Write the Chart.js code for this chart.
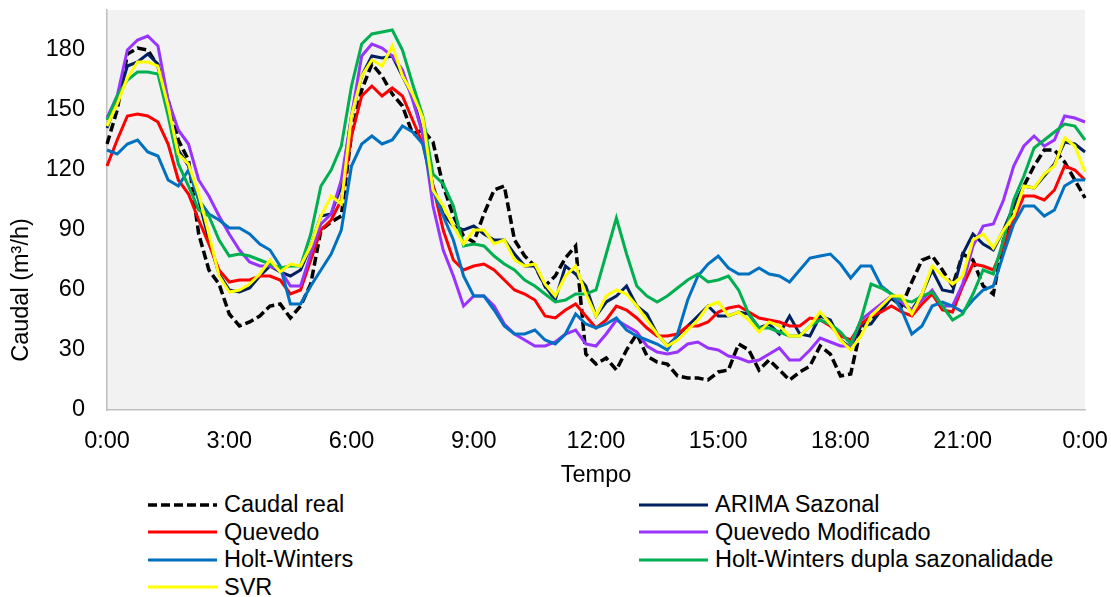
<!DOCTYPE html>
<html lang="pt">
<head>
<meta charset="UTF-8">
<title>Caudal - previsões</title>
<script src="https://cdn.jsdelivr.net/npm/chart.js@4.4.1/dist/chart.umd.js"></script>
<style>
  body { margin: 0; background: #fff; font-family: "Liberation Sans", Arial, sans-serif; }
  #wrap { position: relative; width: 1111px; height: 597px; }
  #box { position: absolute; left: 0; top: 0; width: 1111px; height: 490px; }
  #legend { position: absolute; left: 148px; top: 491px; display: grid; grid-template-columns: 491px 440px; }
  .item { display: flex; align-items: center; height: 27.5px; font-size: 23.5px; color: #000; white-space: nowrap; }
  .item svg { margin-right: 7px; flex: none; }
</style>
</head>
<body>
<div id="wrap">
  <div id="box"><canvas id="chart"></canvas></div>
  <div id="legend"></div>
</div>
<script>
// 15 min steps, 0:00 .. 24:00
const times = [];
for (let m = 0; m <= 24 * 60; m += 15) {
  times.push(Math.floor(m / 60) % 24 + ':' + String(m % 60).padStart(2, '0'));
}
const tickLabels = ['0:00', '3:00', '6:00', '9:00', '12:00', '15:00', '18:00', '21:00', '0:00'];
const yTicks = [0, 30, 60, 90, 120, 150, 180];
const yTitleText = 'Caudal (m³/h)';
const xTitleText = 'Tempo';

const caudalReal = [133,150,178,181,180,172,155,135,125,88,70,63,48,42,44,47,52,
  53,46,52,63,90,94,97,138,160,173,167,158,152,138,140,
  134,112,97,87,84,98,110,112,85,77,72,62,67,76,82,28,
  23,26,20,30,38,27,24,23,17,16,16,15,19,20,33,30,
  20,25,20,15,19,22,32,28,17,18,41,45,50,56,52,64,
  75,77,70,62,78,75,62,58,85,100,112,122,130,130,124,115,106];
const arimaSazonal = [141,155,172,174,178,173,150,130,122,105,85,68,60,59,61,67,72,
  69,67,70,82,97,98,112,147,167,177,176,177,167,157,138,
  112,98,92,90,92,88,85,85,78,72,72,62,55,72,68,62,
  47,54,57,62,52,48,38,32,37,42,47,52,47,47,49,48,
  41,43,38,47,38,37,47,45,35,31,42,43,50,56,53,50,
  58,70,60,59,78,88,83,80,90,102,112,111,117,123,134,133,129];
const quevedo = [122,135,147,148,147,144,133,115,108,95,83,70,64,65,65,67,67,
  65,58,60,75,90,95,105,137,157,162,157,161,157,145,133,
  112,90,75,70,72,73,70,65,60,58,55,47,46,50,53,47,
  41,45,52,50,46,41,37,37,38,42,42,44,49,51,52,49,
  46,45,44,42,42,46,45,42,37,35,43,47,49,52,49,47,
  53,58,50,49,62,73,72,70,82,95,107,107,105,110,122,120,115];
const quevedoMod = [146,157,180,185,187,182,155,140,133,115,107,97,88,80,74,72,72,
  70,62,62,78,93,98,115,147,177,183,181,177,170,155,138,
  102,80,67,52,57,57,52,43,38,35,32,32,34,38,40,33,
  32,38,45,42,39,32,29,28,29,33,34,31,30,27,26,24,
  25,28,31,25,25,30,36,34,32,32,45,49,53,57,54,50,
  55,60,52,52,63,82,92,93,105,122,132,137,132,135,147,146,144];
const holtWinters = [130,128,133,135,129,127,115,112,120,105,98,95,91,91,88,83,80,
  72,53,53,62,70,78,90,122,133,137,133,135,142,139,133,
  110,97,85,67,57,57,50,42,38,38,40,35,33,38,48,43,
  41,43,46,40,37,35,33,30,38,55,67,73,77,71,68,68,
  71,68,67,64,70,76,77,78,73,66,72,72,62,58,50,38,
  42,52,54,52,49,55,60,62,78,93,102,102,97,100,112,115,115];
const hwDupla = [145,157,165,169,169,168,147,123,112,100,97,85,77,78,77,75,73,
  71,72,72,88,112,120,132,162,183,188,189,190,180,163,147,
  118,113,102,82,83,82,77,73,70,65,62,58,54,55,58,58,
  60,78,96,78,62,57,54,57,61,65,68,64,65,67,60,48,
  41,41,39,37,37,42,45,43,39,33,45,63,61,58,55,54,
  57,59,52,45,48,58,70,68,85,105,117,131,135,139,143,142,135];
const svr = [142,153,166,174,174,172,152,128,123,108,88,67,59,60,63,68,75,
  69,73,72,82,97,107,103,147,167,175,172,182,167,158,146,
  110,102,92,83,90,90,83,85,75,72,73,63,57,67,72,58,
  47,57,60,58,52,45,38,32,35,40,45,52,54,47,49,45,
  39,44,42,37,37,42,49,43,35,30,37,47,52,57,57,48,
  58,72,67,63,67,85,88,81,90,97,112,111,118,122,136,132,119];

const FONT = '"Liberation Sans", Arial, sans-serif';
const FS = 23.5;

function line(label, data, color, order, dash) {
  return {
    label: label, data: data, borderColor: color, backgroundColor: color,
    borderWidth: dash ? 3.5 : 3, borderDash: dash || [], pointRadius: 0,
    tension: 0, fill: false, order: order
  };
}

const datasets = [
  line('Caudal real', caudalReal, '#000000', 6, [9, 4]),
  line('ARIMA Sazonal', arimaSazonal, '#002060', 5),
  line('Quevedo', quevedo, '#ff0000', 4),
  line('Quevedo Modificado', quevedoMod, '#9933ff', 3),
  line('Holt-Winters', holtWinters, '#0070c0', 2),
  line('Holt-Winters dupla sazonalidade', hwDupla, '#00b050', 1),
  line('SVR', svr, '#ffff00', 0)
];

const plotBg = {
  id: 'plotBg',
  beforeDraw(chart) {
    const a = chart.chartArea, ctx = chart.ctx;
    ctx.save();
    ctx.fillStyle = '#f2f2f2';
    ctx.fillRect(a.left, a.top, a.right - a.left, a.bottom - a.top);
    ctx.restore();
  }
};

// y title sits lower than the plot centre in the original
const yTitle = {
  id: 'yTitle',
  afterDraw(chart) {
    const ctx = chart.ctx;
    ctx.save();
    ctx.translate(22, 290);
    ctx.rotate(-Math.PI / 2);
    ctx.font = FS + 'px ' + FONT;
    ctx.fillStyle = '#000';
    ctx.textAlign = 'center';
    ctx.textBaseline = 'middle';
    ctx.fillText(yTitleText, 0, 0);
    ctx.restore();
  }
};

const chart = new Chart(document.getElementById('chart'), {
  type: 'line',
  data: { labels: times, datasets: datasets },
  options: {
    responsive: true,
    maintainAspectRatio: false,
    animation: false,
    layout: { padding: { top: 10, right: 26, bottom: 0, left: 0 } },
    plugins: { legend: { display: false }, tooltip: { enabled: false } },
    scales: {
      x: {
        type: 'category',
        offset: false,
        grid: { display: false, drawTicks: false },
        border: { display: true, color: '#bfbfbf', width: 1.5 },
        ticks: {
          autoSkip: false, maxRotation: 0, minRotation: 0, padding: 17,
          color: '#000', font: { family: FONT, size: FS },
          callback: (v, i) => (i % 12 === 0 ? tickLabels[i / 12] : '')
        },
        title: { display: true, text: xTitleText, color: '#000', font: { family: FONT, size: FS }, padding: { top: 0, bottom: 0 } },
        afterFit: s => { s.height = 80; s.paddingLeft = 0; s.paddingRight = 0; }
      },
      y: {
        min: 0, max: 200,
        grid: { display: false, drawTicks: false },
        border: { display: true, color: '#bfbfbf', width: 1.5 },
        afterBuildTicks: s => { s.ticks = yTicks.map(v => ({ value: v })); },
        ticks: { padding: 22, color: '#000', font: { family: FONT, size: FS } },
        afterFit: s => { s.width = 107; s.paddingTop = 0; s.paddingBottom = 0; }
      }
    }
  },
  plugins: [plotBg, yTitle]
});

// legend in two columns, built from the datasets
const legendEl = document.getElementById('legend');
chart.data.datasets.forEach(ds => {
  const item = document.createElement('div');
  item.className = 'item';
  const dash = ds.borderDash.length ? ' stroke-dasharray="' + ds.borderDash.join(' ') + '"' : '';
  item.innerHTML = '<svg width="69" height="6"><line x1="0" y1="3" x2="69" y2="3" stroke="' + ds.borderColor +
    '" stroke-width="' + ds.borderWidth + '"' + dash + '/></svg><span>' + ds.label + '</span>';
  legendEl.appendChild(item);
});
</script>
</body>
</html>
